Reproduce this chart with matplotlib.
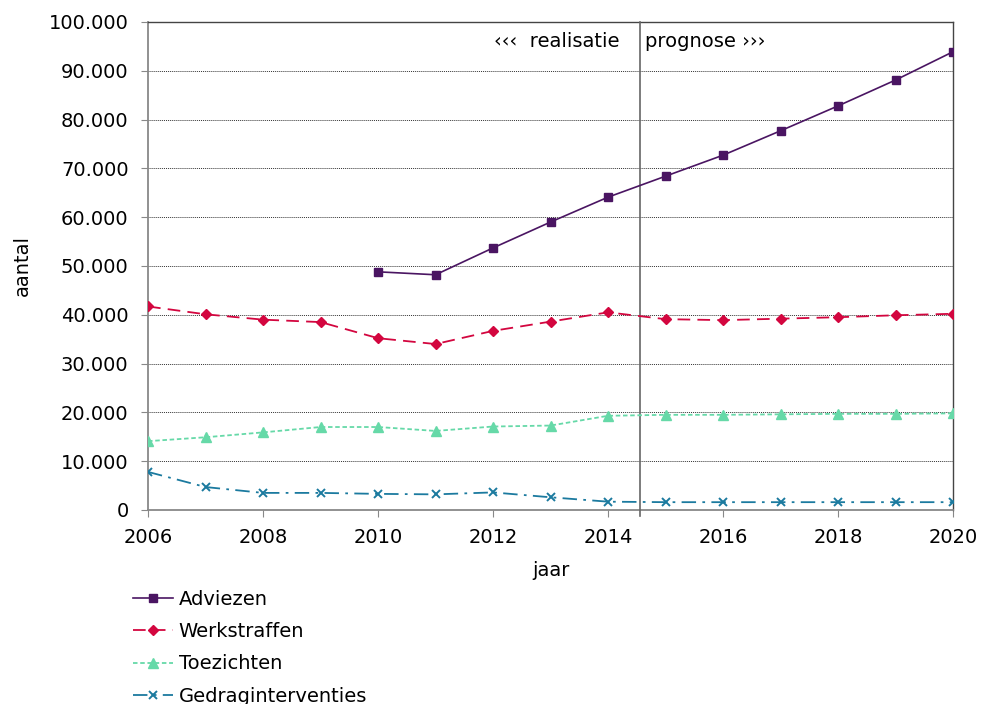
import matplotlib.pyplot as plt
from matplotlib.ticker import FuncFormatter

jaren = list(range(2006, 2021))
jaren_adviezen = list(range(2010, 2021))

# aantallen in duizendtallen
adviezen = [48.8, 48.2, 53.7, 59.0, 64.1, 68.4, 72.7, 77.7, 82.8, 88.1, 93.9]
werkstraffen = [41.7, 40.1, 39.0, 38.5, 35.2, 34.0, 36.7, 38.6, 40.5, 39.1, 38.9, 39.2, 39.5, 39.9, 40.2]
toezichten = [14.1, 14.9, 15.9, 17.0, 17.0, 16.2, 17.1, 17.3, 19.3, 19.5, 19.5, 19.6, 19.7, 19.7, 19.8]
gedraginterventies = [7.8, 4.7, 3.5, 3.5, 3.3, 3.2, 3.6, 2.6, 1.7, 1.6, 1.6, 1.6, 1.6, 1.6, 1.6]

adviezen = [v * 1000 for v in adviezen]
werkstraffen = [v * 1000 for v in werkstraffen]
toezichten = [v * 1000 for v in toezichten]
gedraginterventies = [v * 1000 for v in gedraginterventies]

plt.rcParams['font.family'] = ['DejaVu Sans']
FS = 14

fig = plt.figure(figsize=(9.81, 7.04), dpi=100)
ax = fig.add_axes([0.1509, 0.2756, 0.8206, 0.6932])

ax.plot(jaren_adviezen, adviezen, color='#4a1562', lw=1.2, marker='s', ms=6,
        label='Adviezen', zorder=5)
ax.plot(jaren, werkstraffen, color='#d3063f', lw=1.3, ls=(0, (7, 4)), marker='D', ms=5.5,
        label='Werkstraffen', zorder=5)
ax.plot(jaren, toezichten, color='#66d9a8', lw=1.3, ls=(0, (2.5, 1.5)), marker='^', ms=7,
        label='Toezichten', zorder=5)
ax.plot(jaren, gedraginterventies, color='#1b7a9f', lw=1.3, ls=(0, (8, 3.5, 1.5, 3.5)), marker='x',
        ms=6, mew=1.4, label='Gedraginterventies', zorder=5)

ax.axvline(2014.55, ymin=-0.012, color='#666666', lw=1.2, zorder=4, clip_on=False)
ax.text(2014.2, 96000, '‹‹‹  realisatie', ha='right', va='center', fontsize=FS)
ax.text(2014.65, 96000, 'prognose ›››', ha='left', va='center', fontsize=FS)

ax.set_xlim(2006, 2020)
ax.set_ylim(0, 100000)
ax.set_xticks(range(2006, 2021, 2))
ax.set_yticks(range(0, 100001, 10000))
ax.yaxis.set_major_formatter(FuncFormatter(lambda v, p: f'{int(v):,}'.replace(',', '.')))
ax.tick_params(axis='both', labelsize=FS, direction='out', length=5, color='#888888')
ax.tick_params(axis='y', pad=9)
ax.tick_params(axis='x', pad=8)
ax.yaxis.grid(True, color='#333333', ls=(0, (1, 1)), lw=0.7)
ax.set_axisbelow(True)

for s in ['left', 'bottom']:
    ax.spines[s].set_color('#888888')
    ax.spines[s].set_linewidth(1.3)
for s in ['top', 'right']:
    ax.spines[s].set_color('#444444')
    ax.spines[s].set_linewidth(1.0)

ax.set_xlabel('jaar', fontsize=FS, labelpad=10)
ax.set_ylabel('aantal', fontsize=FS, labelpad=12)

fig.legend(loc='upper left', bbox_to_anchor=(0.1356, 0.162), frameon=False, fontsize=FS,
           handlelength=2.05, labelspacing=0.68, borderaxespad=0, borderpad=0,
           handletextpad=0.3)

fig.savefig('out.png', dpi=100)
